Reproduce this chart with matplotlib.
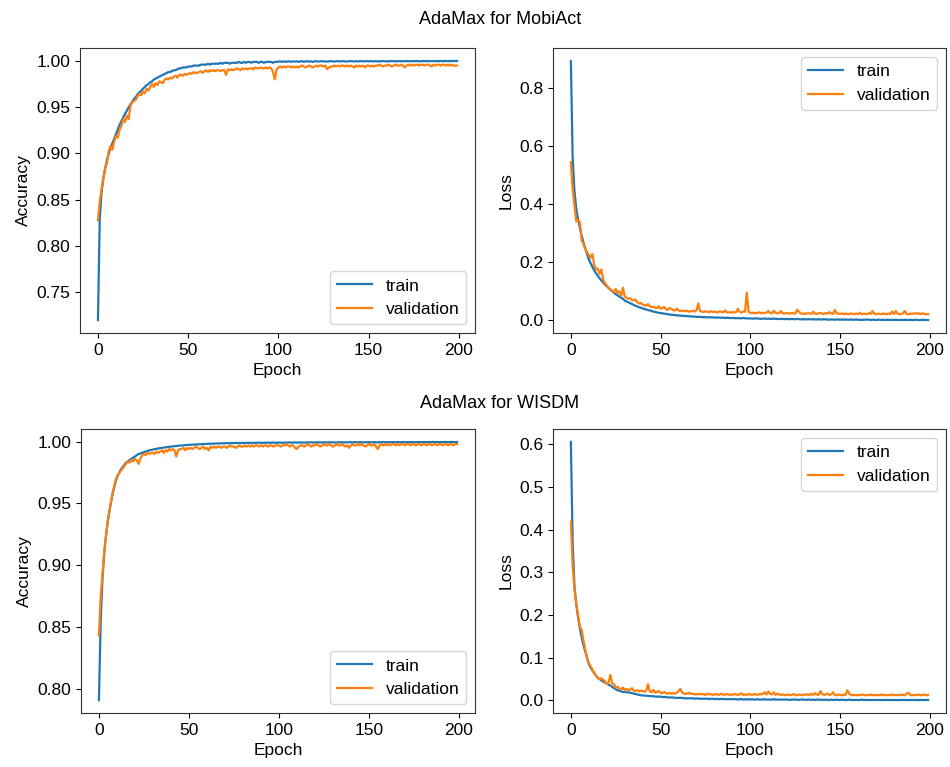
import matplotlib
matplotlib.use("Agg")
import matplotlib.pyplot as plt
import numpy as np

plt.rcParams['font.family'] = ['Liberation Sans', 'DejaVu Sans']
plt.rcParams['font.size'] = 12.5

# ---------------- data ----------------
acc_mobi_train = [
 0.720, 0.830, 0.858, 0.873, 0.884, 0.893, 0.900, 0.906, 0.911, 0.916,
 0.921, 0.926, 0.931, 0.935, 0.939, 0.943, 0.946, 0.950, 0.953, 0.956,
 0.959, 0.961, 0.964, 0.966, 0.968, 0.970, 0.972, 0.974, 0.975, 0.977,
 0.978, 0.980, 0.981, 0.982, 0.983, 0.984, 0.985, 0.986, 0.987, 0.988,
 0.988, 0.989, 0.990, 0.990, 0.991, 0.992, 0.992, 0.993, 0.993, 0.993,
 0.994, 0.994, 0.994, 0.995, 0.995, 0.995, 0.995, 0.996, 0.996, 0.996,
 0.996, 0.997, 0.996, 0.997, 0.997, 0.997, 0.997, 0.997, 0.998, 0.997,
 0.998, 0.998, 0.998, 0.997, 0.998, 0.998, 0.998, 0.998, 0.999, 0.998,
 0.998, 0.999, 0.998, 0.999, 0.999, 0.998, 0.999, 0.999, 0.999, 0.998,
 0.999, 0.999, 0.998, 0.999, 0.999, 0.999, 0.999, 0.998, 0.999, 0.999,
 0.9992, 0.9995, 0.9990, 0.9996, 0.9991, 0.9994, 0.9997, 0.9990, 0.9995, 0.9993,
 0.9996, 0.9991, 0.9995, 0.9998, 0.9992, 0.9994, 0.9997, 0.9993, 0.9996, 0.9990,
 0.9995, 0.9997, 0.9993, 0.9996, 0.9998, 0.9994, 0.9997, 0.9992, 0.9996, 0.9998,
 0.9995, 0.9993, 0.9997, 0.9999, 0.9994, 0.9996, 0.9998, 0.9995, 0.9993, 0.9997,
 0.9998, 0.9996, 0.9994, 0.9998, 0.9995, 0.9997, 0.9999, 0.9994, 0.9997, 0.9998,
 0.9996, 0.9999, 0.9995, 0.9997, 0.9998, 0.9994, 0.9998, 0.9996, 0.9999, 0.9997,
 0.9995, 0.9998, 0.9997, 0.9999, 0.9996, 0.9998, 0.9995, 0.9999, 0.9997, 0.9998,
 0.9996, 0.9999, 0.9998, 0.9996, 0.9999, 0.9997, 0.9998, 1.0000, 0.9996, 0.9998,
 0.9999, 0.9997, 0.9998, 1.0000, 0.9996, 0.9999, 0.9998, 0.9997, 1.0000, 0.9998,
 0.9999, 0.9997, 1.0000, 0.9998, 0.9999, 0.9997, 1.0000, 0.9999, 0.9998, 1.0000]

acc_mobi_val = [
 0.828, 0.848, 0.862, 0.874, 0.884, 0.890, 0.903, 0.908, 0.904, 0.913,
 0.919, 0.917, 0.926, 0.930, 0.937, 0.934, 0.941, 0.937, 0.952, 0.955,
 0.957, 0.958, 0.962, 0.964, 0.963, 0.967, 0.965, 0.970, 0.968, 0.972,
 0.975, 0.972, 0.976, 0.974, 0.978, 0.977, 0.976, 0.980, 0.981, 0.980,
 0.982, 0.981, 0.983, 0.984, 0.982, 0.985, 0.985, 0.984, 0.986, 0.985,
 0.986, 0.987, 0.986, 0.988, 0.987, 0.987, 0.988, 0.989, 0.987, 0.989,
 0.990, 0.988, 0.990, 0.989, 0.990, 0.989, 0.990, 0.990, 0.989, 0.990,
 0.990, 0.985, 0.991, 0.990, 0.991, 0.990, 0.991, 0.992, 0.991, 0.990,
 0.992, 0.991, 0.992, 0.991, 0.992, 0.992, 0.991, 0.993, 0.992, 0.992,
 0.993, 0.992, 0.992, 0.993, 0.992, 0.993, 0.992, 0.988, 0.980, 0.991,
 0.993, 0.994, 0.993, 0.994, 0.993, 0.994, 0.994, 0.993, 0.994, 0.993,
 0.994, 0.993, 0.994, 0.995, 0.994, 0.993, 0.994, 0.995, 0.994, 0.993,
 0.994, 0.995, 0.994, 0.995, 0.995, 0.994, 0.995, 0.991, 0.993, 0.994,
 0.994, 0.995, 0.994, 0.995, 0.994, 0.995, 0.995, 0.994, 0.995, 0.994,
 0.995, 0.994, 0.993, 0.995, 0.994, 0.995, 0.994, 0.995, 0.993, 0.995,
 0.995, 0.994, 0.995, 0.994, 0.995, 0.995, 0.996, 0.995, 0.994, 0.995,
 0.995, 0.996, 0.995, 0.994, 0.995, 0.996, 0.995, 0.995, 0.996, 0.995,
 0.993, 0.995, 0.996, 0.995, 0.996, 0.995, 0.996, 0.996, 0.995, 0.996,
 0.996, 0.995, 0.996, 0.996, 0.995, 0.994, 0.996, 0.995, 0.996, 0.996,
 0.995, 0.996, 0.996, 0.995, 0.996, 0.995, 0.996, 0.995, 0.995, 0.995]

loss_mobi_train = [
 0.892, 0.560, 0.445, 0.385, 0.348, 0.318, 0.292, 0.268, 0.248, 0.228,
 0.210, 0.196, 0.184, 0.172, 0.162, 0.153, 0.145, 0.137, 0.130, 0.123,
 0.117, 0.111, 0.105, 0.100, 0.095, 0.090, 0.086, 0.082, 0.078, 0.074,
 0.068, 0.065, 0.062, 0.059, 0.056, 0.053, 0.050, 0.048, 0.045, 0.043,
 0.041, 0.039, 0.037, 0.035, 0.034, 0.032, 0.030, 0.029, 0.027, 0.026,
 0.025, 0.024, 0.023, 0.022, 0.021, 0.020, 0.019, 0.019, 0.018, 0.017,
 0.017, 0.016, 0.016, 0.015, 0.015, 0.014, 0.014, 0.013, 0.013, 0.013,
 0.012, 0.012, 0.012, 0.011, 0.011, 0.011, 0.010, 0.011, 0.010, 0.010,
 0.010, 0.009, 0.010, 0.009, 0.009, 0.009, 0.008, 0.009, 0.008, 0.008,
 0.008, 0.008, 0.007, 0.008, 0.007, 0.007, 0.008, 0.007, 0.007, 0.006,
 0.007, 0.006, 0.006, 0.007, 0.006, 0.006, 0.005, 0.006, 0.006, 0.005,
 0.006, 0.005, 0.005, 0.006, 0.005, 0.005, 0.004, 0.005, 0.005, 0.004,
 0.005, 0.004, 0.004, 0.005, 0.004, 0.004, 0.005, 0.004, 0.003, 0.004,
 0.004, 0.003, 0.004, 0.004, 0.003, 0.004, 0.003, 0.003, 0.004, 0.003,
 0.003, 0.004, 0.003, 0.003, 0.002, 0.003, 0.003, 0.002, 0.003, 0.003,
 0.002, 0.003, 0.002, 0.003, 0.002, 0.002, 0.003, 0.002, 0.002, 0.003,
 0.002, 0.002, 0.001, 0.002, 0.002, 0.003, 0.002, 0.001, 0.002, 0.002,
 0.001, 0.002, 0.002, 0.001, 0.002, 0.001, 0.002, 0.002, 0.001, 0.002,
 0.001, 0.002, 0.001, 0.001, 0.002, 0.001, 0.002, 0.001, 0.001, 0.002,
 0.001, 0.001, 0.002, 0.001, 0.001, 0.001, 0.002, 0.001, 0.001, 0.001]

loss_mobi_val = [
 0.544, 0.450, 0.395, 0.340, 0.345, 0.338, 0.275, 0.262, 0.245, 0.235,
 0.225, 0.215, 0.228, 0.190, 0.175, 0.178, 0.160, 0.175, 0.140, 0.128,
 0.120, 0.112, 0.105, 0.102, 0.098, 0.108, 0.094, 0.100, 0.085, 0.112,
 0.082, 0.078, 0.074, 0.076, 0.070, 0.068, 0.072, 0.062, 0.058, 0.060,
 0.054, 0.052, 0.050, 0.056, 0.048, 0.045, 0.047, 0.043, 0.042, 0.048,
 0.040, 0.042, 0.046, 0.038, 0.036, 0.042, 0.040, 0.035, 0.034, 0.040,
 0.034, 0.032, 0.033, 0.031, 0.034, 0.032, 0.030, 0.031, 0.033, 0.030,
 0.035, 0.058, 0.032, 0.030, 0.029, 0.031, 0.030, 0.028, 0.032, 0.029,
 0.030, 0.028, 0.027, 0.031, 0.028, 0.029, 0.034, 0.027, 0.028, 0.026,
 0.029, 0.027, 0.028, 0.040, 0.029, 0.027, 0.030, 0.030, 0.095, 0.030,
 0.025, 0.027, 0.024, 0.026, 0.025, 0.028, 0.024, 0.026, 0.025, 0.027,
 0.032, 0.025, 0.024, 0.033, 0.026, 0.024, 0.025, 0.032, 0.024, 0.023,
 0.025, 0.024, 0.023, 0.026, 0.024, 0.023, 0.036, 0.030, 0.024, 0.023,
 0.022, 0.024, 0.023, 0.025, 0.022, 0.030, 0.023, 0.022, 0.024, 0.026,
 0.023, 0.022, 0.025, 0.023, 0.028, 0.024, 0.022, 0.036, 0.025, 0.023,
 0.022, 0.024, 0.021, 0.023, 0.022, 0.021, 0.024, 0.022, 0.021, 0.023,
 0.022, 0.026, 0.021, 0.023, 0.022, 0.021, 0.025, 0.022, 0.032, 0.023,
 0.021, 0.023, 0.022, 0.021, 0.024, 0.022, 0.021, 0.023, 0.022, 0.030,
 0.022, 0.032, 0.023, 0.021, 0.022, 0.024, 0.032, 0.022, 0.021, 0.023,
 0.022, 0.024, 0.023, 0.025, 0.023, 0.022, 0.024, 0.022, 0.021, 0.021]

acc_wisdm_train = [
 0.791, 0.855, 0.890, 0.910, 0.925, 0.936, 0.945, 0.953, 0.960, 0.966,
 0.971, 0.974, 0.977, 0.979, 0.981, 0.983, 0.984, 0.985, 0.986, 0.987,
 0.988, 0.989, 0.990, 0.9905, 0.991, 0.9915, 0.992, 0.9925, 0.993, 0.9933,
 0.9936, 0.9939, 0.9942, 0.9945, 0.9948, 0.9950, 0.9952, 0.9954, 0.9956, 0.9958,
 0.9960, 0.9962, 0.9963, 0.9965, 0.9966, 0.9968, 0.9969, 0.9970, 0.9972, 0.9973,
 0.9974, 0.9975, 0.9976, 0.9977, 0.9978, 0.9978, 0.9979, 0.9980, 0.9981, 0.9981,
 0.9982, 0.9983, 0.9983, 0.9984, 0.9984, 0.9985, 0.9985, 0.9986, 0.9986, 0.9987,
 0.9987, 0.9988, 0.9987, 0.9988, 0.9989, 0.9988, 0.9989, 0.9989, 0.9990, 0.9989,
 0.9990, 0.9989, 0.9990, 0.9991, 0.9990, 0.9990, 0.9991, 0.9990, 0.9991, 0.9992,
 0.9991, 0.9990, 0.9992, 0.9991, 0.9992, 0.9991, 0.9992, 0.9993, 0.9991, 0.9992,
 0.9993, 0.9992, 0.9991, 0.9993, 0.9992, 0.9993, 0.9994, 0.9992, 0.9993, 0.9994,
 0.9992, 0.9993, 0.9994, 0.9993, 0.9992, 0.9994, 0.9993, 0.9994, 0.9995, 0.9993,
 0.9994, 0.9993, 0.9995, 0.9994, 0.9993, 0.9995, 0.9994, 0.9993, 0.9995, 0.9994,
 0.9995, 0.9994, 0.9993, 0.9995, 0.9994, 0.9996, 0.9994, 0.9995, 0.9994, 0.9996,
 0.9995, 0.9994, 0.9996, 0.9995, 0.9994, 0.9996, 0.9995, 0.9994, 0.9996, 0.9995,
 0.9996, 0.9994, 0.9995, 0.9996, 0.9995, 0.9994, 0.9996, 0.9995, 0.9997, 0.9995,
 0.9996, 0.9995, 0.9997, 0.9996, 0.9995, 0.9996, 0.9997, 0.9995, 0.9996, 0.9997,
 0.9996, 0.9995, 0.9997, 0.9996, 0.9997, 0.9995, 0.9996, 0.9997, 0.9996, 0.9997,
 0.9996, 0.9997, 0.9995, 0.9997, 0.9996, 0.9997, 0.9998, 0.9996, 0.9997, 0.9996,
 0.9997, 0.9996, 0.9998, 0.9997, 0.9996, 0.9997, 0.9998, 0.9997, 0.9996, 0.9997]

acc_wisdm_val = [
 0.843, 0.875, 0.893, 0.912, 0.925, 0.937, 0.946, 0.954, 0.961, 0.967,
 0.972, 0.974, 0.976, 0.978, 0.980, 0.982, 0.984, 0.983, 0.985, 0.984,
 0.986, 0.985, 0.982, 0.986, 0.989, 0.990, 0.989, 0.991, 0.990, 0.991,
 0.991, 0.990, 0.992, 0.991, 0.992, 0.993, 0.991, 0.993, 0.992, 0.994,
 0.993, 0.994, 0.993, 0.988, 0.993, 0.994, 0.994, 0.995, 0.993, 0.995,
 0.994, 0.995, 0.994, 0.995, 0.996, 0.995, 0.994, 0.995, 0.996, 0.994,
 0.995, 0.993, 0.996, 0.995, 0.996, 0.995, 0.996, 0.996, 0.995, 0.996,
 0.996, 0.995, 0.996, 0.997, 0.996, 0.996, 0.995, 0.996, 0.997, 0.996,
 0.996, 0.997, 0.996, 0.997, 0.996, 0.997, 0.996, 0.997, 0.997, 0.996,
 0.997, 0.996, 0.997, 0.997, 0.996, 0.997, 0.997, 0.996, 0.997, 0.997,
 0.997, 0.996, 0.997, 0.997, 0.998, 0.997, 0.996, 0.997, 0.997, 0.995,
 0.994, 0.996, 0.997, 0.997, 0.996, 0.997, 0.998, 0.997, 0.996, 0.997,
 0.997, 0.998, 0.997, 0.996, 0.997, 0.998, 0.997, 0.997, 0.998, 0.997,
 0.996, 0.997, 0.998, 0.997, 0.997, 0.998, 0.997, 0.996, 0.997, 0.995,
 0.997, 0.998, 0.997, 0.997, 0.998, 0.997, 0.998, 0.997, 0.996, 0.997,
 0.998, 0.997, 0.997, 0.998, 0.996, 0.994, 0.997, 0.998, 0.997, 0.998,
 0.997, 0.998, 0.997, 0.998, 0.998, 0.997, 0.998, 0.997, 0.998, 0.998,
 0.997, 0.998, 0.998, 0.997, 0.998, 0.998, 0.997, 0.998, 0.998, 0.997,
 0.998, 0.998, 0.997, 0.998, 0.998, 0.997, 0.998, 0.998, 0.997, 0.998,
 0.998, 0.997, 0.998, 0.998, 0.997, 0.998, 0.998, 0.997, 0.998, 0.998]

loss_wisdm_train = [
 0.606, 0.370, 0.268, 0.225, 0.195, 0.170, 0.148, 0.130, 0.115, 0.100,
 0.085, 0.077, 0.070, 0.064, 0.058, 0.053, 0.050, 0.047, 0.044, 0.042,
 0.040, 0.037, 0.035, 0.032, 0.029, 0.026, 0.024, 0.023, 0.021, 0.020,
 0.020, 0.019, 0.019, 0.018, 0.017, 0.016, 0.015, 0.014, 0.013, 0.012,
 0.012, 0.011, 0.011, 0.011, 0.010, 0.010, 0.010, 0.009, 0.009, 0.009,
 0.009, 0.008, 0.008, 0.008, 0.007, 0.007, 0.007, 0.007, 0.006, 0.006,
 0.006, 0.006, 0.006, 0.005, 0.005, 0.005, 0.005, 0.005, 0.005, 0.004,
 0.005, 0.004, 0.004, 0.004, 0.004, 0.004, 0.004, 0.003, 0.004, 0.004,
 0.003, 0.004, 0.003, 0.003, 0.004, 0.003, 0.003, 0.003, 0.003, 0.003,
 0.003, 0.003, 0.003, 0.002, 0.003, 0.003, 0.002, 0.003, 0.002, 0.003,
 0.002, 0.003, 0.002, 0.002, 0.003, 0.002, 0.002, 0.002, 0.003, 0.002,
 0.002, 0.002, 0.002, 0.003, 0.002, 0.002, 0.002, 0.002, 0.002, 0.002,
 0.002, 0.002, 0.001, 0.002, 0.002, 0.002, 0.002, 0.001, 0.002, 0.002,
 0.002, 0.001, 0.002, 0.002, 0.001, 0.002, 0.001, 0.002, 0.002, 0.001,
 0.002, 0.001, 0.002, 0.001, 0.001, 0.002, 0.001, 0.001, 0.002, 0.001,
 0.001, 0.002, 0.001, 0.001, 0.001, 0.002, 0.001, 0.001, 0.001, 0.001,
 0.001, 0.001, 0.002, 0.001, 0.001, 0.001, 0.001, 0.001, 0.001, 0.001,
 0.001, 0.0012, 0.001, 0.0008, 0.001, 0.0012, 0.001, 0.0008, 0.001, 0.001,
 0.0008, 0.001, 0.0012, 0.001, 0.0008, 0.001, 0.001, 0.0012, 0.0008, 0.001,
 0.001, 0.0008, 0.001, 0.0012, 0.001, 0.0008, 0.001, 0.001, 0.0008, 0.001]

loss_wisdm_val = [
 0.419, 0.315, 0.260, 0.228, 0.200, 0.173, 0.166, 0.140, 0.120, 0.100,
 0.088, 0.080, 0.072, 0.065, 0.058, 0.053, 0.050, 0.052, 0.048, 0.045,
 0.038, 0.042, 0.060, 0.040, 0.038, 0.030, 0.032, 0.028, 0.026, 0.030,
 0.025, 0.027, 0.024, 0.025, 0.029, 0.023, 0.022, 0.024, 0.021, 0.023,
 0.022, 0.020, 0.023, 0.038, 0.021, 0.019, 0.025, 0.018, 0.020, 0.022,
 0.018, 0.017, 0.020, 0.017, 0.016, 0.018, 0.016, 0.017, 0.016, 0.018,
 0.022, 0.027, 0.018, 0.016, 0.015, 0.017, 0.018, 0.015, 0.016, 0.014,
 0.015, 0.014, 0.016, 0.014, 0.015, 0.013, 0.016, 0.014, 0.015, 0.013,
 0.014, 0.015, 0.013, 0.014, 0.016, 0.013, 0.014, 0.015, 0.013, 0.014,
 0.013, 0.015, 0.014, 0.013, 0.014, 0.017, 0.013, 0.014, 0.013, 0.015,
 0.014, 0.013, 0.015, 0.014, 0.013, 0.015, 0.014, 0.016, 0.019, 0.014,
 0.021, 0.015, 0.014, 0.019, 0.013, 0.016, 0.014, 0.013, 0.014, 0.012,
 0.013, 0.014, 0.012, 0.013, 0.015, 0.013, 0.012, 0.014, 0.013, 0.012,
 0.014, 0.013, 0.015, 0.012, 0.016, 0.013, 0.017, 0.014, 0.013, 0.022,
 0.015, 0.013, 0.014, 0.016, 0.013, 0.014, 0.019, 0.013, 0.012, 0.014,
 0.013, 0.012, 0.014, 0.013, 0.024, 0.016, 0.013, 0.012, 0.013, 0.012,
 0.013, 0.012, 0.014, 0.013, 0.012, 0.013, 0.012, 0.014, 0.013, 0.012,
 0.013, 0.012, 0.013, 0.014, 0.012, 0.013, 0.012, 0.013, 0.012, 0.014,
 0.013, 0.012, 0.013, 0.012, 0.014, 0.013, 0.012, 0.016, 0.018, 0.013,
 0.012, 0.013, 0.012, 0.014, 0.013, 0.012, 0.013, 0.014, 0.012, 0.013]

series_labels = ["train", "validation"]
titles = ["AdaMax for MobiAct", "AdaMax for WISDM"]

# ---------------- figure ----------------
fig = plt.figure(figsize=(9.5, 7.67), dpi=100)
W, H = 950.0, 767.0

def add_ax(l, t, r, b):
    return fig.add_axes([l / W, 1 - b / H, (r - l) / W, (b - t) / H])

ax_tl = add_ax(80, 48, 475, 333)
ax_tr = add_ax(553, 48, 946, 333)
ax_bl = add_ax(81, 429, 475, 713)
ax_br = add_ax(553, 429, 946, 713)

panels = [
    (ax_tl, acc_mobi_train, acc_mobi_val, "Accuracy", "lower right"),
    (ax_tr, loss_mobi_train, loss_mobi_val, "Loss", "upper right"),
    (ax_bl, acc_wisdm_train, acc_wisdm_val, "Accuracy", "lower right"),
    (ax_br, loss_wisdm_train, loss_wisdm_val, "Loss", "upper right"),
]

for ax, tr, va, ylab, loc in panels:
    ax.plot(np.arange(len(tr)), tr, color="#1f77b4", lw=1.6, label=series_labels[0])
    ax.plot(np.arange(len(va)), va, color="#ff7f0e", lw=1.6, label=series_labels[1])
    ax.set_xlabel("Epoch", fontsize=12.5)
    ax.set_ylabel(ylab, fontsize=12.5)
    ax.set_xticks([0, 50, 100, 150, 200])
    ax.tick_params(labelsize=12.5)
    for s in ax.spines.values():
        s.set_edgecolor("#333333")
    ax.legend(loc=loc, fontsize=12.5)

ax_tl.set_yticks([0.75, 0.80, 0.85, 0.90, 0.95, 1.00])
ax_tr.set_yticks([0.0, 0.2, 0.4, 0.6, 0.8])
ax_bl.set_yticks([0.80, 0.85, 0.90, 0.95, 1.00])
ax_br.set_yticks([0.0, 0.1, 0.2, 0.3, 0.4, 0.5, 0.6])

fig.text(500 / W, 1 - 20 / H, titles[0], ha="center", va="center", fontsize=13)
fig.text(500 / W, 1 - 403 / H, titles[1], ha="center", va="center", fontsize=13)

fig.savefig("out.png", dpi=100)
